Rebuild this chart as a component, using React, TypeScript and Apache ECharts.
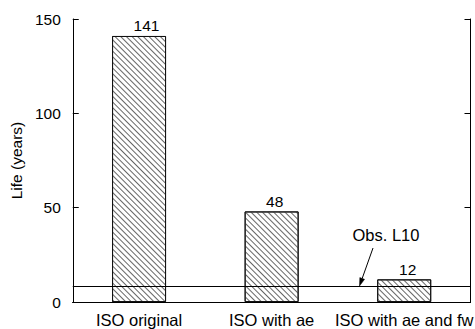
import React, { useEffect, useRef } from 'react';
import * as echarts from 'echarts';

const categories = ['ISO original', 'ISO with ae', 'ISO with ae and fw'];
const lifeYears = [141, 48, 12];
const observedL10 = 8.5;
const yMin = 0;
const yMax = 150;
const yInterval = 50;
const yAxisName = 'Life (years)';
const annotationText = 'Obs. L10';
const labelShiftX = [7.5, 3, 3.5];

export default function App() {
  const ref = useRef<HTMLDivElement>(null);
  useEffect(() => {
    const chart = echarts.init(ref.current!, null, { renderer: 'svg' });
    const font = '"Liberation Sans", Arial, sans-serif';
    const black = '#000';
    const tip = [359.5, 286];
    const tail = [373, 248];
    const dx = tip[0] - tail[0];
    const dy = tip[1] - tail[1];
    const len = Math.sqrt(dx * dx + dy * dy);
    const ux = dx / len, uy = dy / len;
    const hl = 8, hw = 2.5;
    const bx = tip[0] - ux * hl, by = tip[1] - uy * hl;
    const nx = -uy * hw, ny = ux * hw;
    chart.setOption({
      animation: false,
      backgroundColor: '#fff',
      grid: { left: 71, top: 19, right: -2.5, bottom: 27, containLabel: false },
      xAxis: [
        {
          type: 'category',
          data: categories,
          position: 'bottom',
          axisLine: { lineStyle: { color: black, width: 1 } },
          axisTick: { inside: true, length: 5, lineStyle: { color: black } },
          axisLabel: { color: black, fontSize: 16.5, fontFamily: font, margin: 9, interval: 0 },
        },
        {
          type: 'category',
          data: categories,
          position: 'top',
          axisLine: { lineStyle: { color: black, width: 1 } },
          axisTick: { inside: true, length: 5, lineStyle: { color: black } },
          axisLabel: { show: false },
        },
      ],
      yAxis: [
        {
          type: 'value',
          min: yMin,
          max: yMax,
          interval: yInterval,
          position: 'left',
          axisLine: { show: true, lineStyle: { color: black, width: 1 } },
          axisTick: { show: true, inside: true, length: 6, lineStyle: { color: black } },
          axisLabel: { color: black, fontSize: 15.5, fontFamily: font, margin: 12 },
          splitLine: { show: false },
          name: yAxisName,
          nameLocation: 'middle',
          nameGap: 46,
          nameTextStyle: { color: black, fontSize: 15.5, fontFamily: font },
        },
        {
          type: 'value',
          min: yMin,
          max: yMax,
          interval: yInterval,
          position: 'right',
          axisLine: { show: true, lineStyle: { color: black, width: 1 } },
          axisTick: { show: true, inside: true, length: 6, lineStyle: { color: black } },
          axisLabel: { show: false },
          splitLine: { show: false },
        },
      ],
      series: [
        {
          type: 'bar',
          data: lifeYears.map((v, i) => ({ value: v, label: { offset: [labelShiftX[i], 0] } })),
          barWidth: 54,
          itemStyle: {
            color: '#fff',
            borderColor: '#111',
            borderWidth: 1,
            decal: {
              symbol: 'rect',
              symbolSize: 1,
              dashArrayX: [1, 0],
              dashArrayY: [1, 3],
              rotation: Math.PI / 4,
              color: '#666',
            },
          },
          label: {
            show: true,
            position: 'top',
            distance: 2,
            color: black,
            fontSize: 15.5,
            fontFamily: font,
            backgroundColor: '#fff',
            padding: [0, 3],
          },
          markLine: {
            silent: true,
            symbol: ['none', 'none'],
            label: { show: false },
            lineStyle: { color: black, width: 1, type: 'solid' },
            data: [{ yAxis: observedL10 }],
          },
        },
      ],
      graphic: [
        {
          type: 'text',
          x: 386,
          y: 235,
          style: {
            text: annotationText,
            fill: black,
            fontSize: 16.5,
            fontFamily: font,
            align: 'center',
            verticalAlign: 'middle',
            textAlign: 'center',
            textVerticalAlign: 'middle',
          },
        },
        {
          type: 'line',
          shape: { x1: tail[0], y1: tail[1], x2: bx, y2: by },
          style: { stroke: black, lineWidth: 1 },
        },
        {
          type: 'polygon',
          shape: { points: [[tip[0], tip[1]], [bx + nx, by + ny], [bx - nx, by - ny]] },
          style: { fill: black, stroke: black, lineWidth: 0.5 },
        },
      ],
    });
    return () => chart.dispose();
  }, []);
  return <div ref={ref} style={{ position: 'absolute', left: 0, top: 0, width: 475, height: 329 }} />;
}
